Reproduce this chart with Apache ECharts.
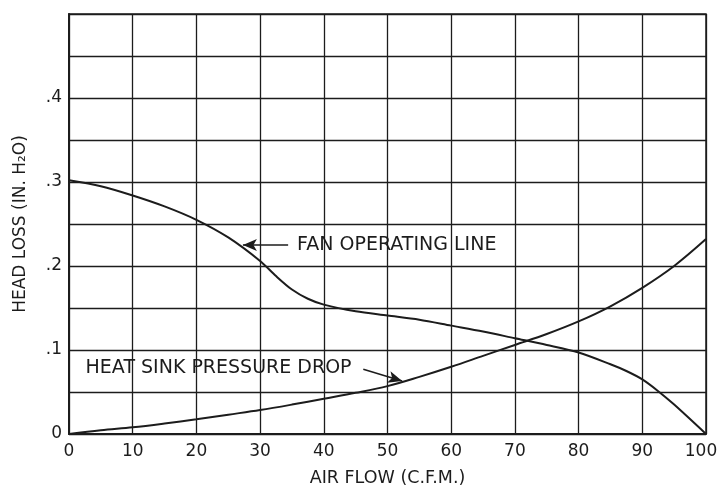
<!DOCTYPE html>
<html>
<head>
<meta charset="utf-8">
<script src="https://cdn.jsdelivr.net/npm/echarts@6/dist/echarts.min.js"></script>
<style>
  html, body { margin: 0; padding: 0; background: #ffffff; }
  #chart { width: 719px; height: 487px; }
</style>
</head>
<body>
<div id="chart"></div>
<script>
// ---- data ----
var fanFlow = [0, 5, 10, 15, 20, 25, 30, 32.5, 35, 37.5, 40, 45, 50, 55, 60, 65, 70, 75, 80, 85, 87.5, 90, 92.5, 95, 100];
var fanLine = [0.302, 0.295, 0.284, 0.271, 0.255, 0.234, 0.206, 0.188, 0.172, 0.161, 0.154, 0.146, 0.141, 0.136, 0.129, 0.122, 0.114, 0.106, 0.097, 0.083, 0.075, 0.065, 0.051, 0.035, 0.0];
var sinkFlow = [0, 5, 10, 15, 20, 25, 30, 35, 40, 45, 50, 55, 60, 65, 70, 75, 80, 85, 90, 95, 100];
var heatSink = [0, 0.0045, 0.008, 0.0125, 0.0175, 0.023, 0.0285, 0.035, 0.042, 0.049, 0.057, 0.068, 0.080, 0.093, 0.106, 0.119, 0.134, 0.152, 0.174, 0.200, 0.232];
var xTicks = [0, 10, 20, 30, 40, 50, 60, 70, 80, 90, 100];
var yTickLabels = ['0', '.1', '.2', '.3', '.4'];
var xTitle = 'AIR FLOW (C.F.M.)';
var yTitle = 'HEAD LOSS (IN. H\u2082O)';
var fanLabel = 'FAN OPERATING LINE';
var fanArrow = [[34.4, 0.225], [27.3, 0.225]];
var fanLabelAt = [35.8, 0.225];
var sinkLabel = 'HEAT SINK PRESSURE DROP';
var sinkArrow = [[46.2, 0.077], [52.3, 0.063]];
var sinkLabelAt = [2.6, 0.079];

function pairs(xs, ys) { return xs.map(function (x, i) { return [x, ys[i]]; }); }

var ink = '#1c1c1c';
var font = '"DejaVu Sans", Verdana, sans-serif';
var lastTick = xTicks[xTicks.length - 1];

var chart = echarts.init(document.getElementById('chart'), null, { renderer: 'canvas' });
chart.setOption({
  backgroundColor: '#ffffff',
  animation: false,
  textStyle: { fontFamily: font },
  grid: {
    left: 69, right: 13, top: 14, bottom: 53, containLabel: false, outerBoundsMode: 'none',
    show: true, borderColor: ink, borderWidth: 1.5, backgroundColor: 'transparent'
  },
  xAxis: {
    type: 'value', min: xTicks[0], max: lastTick, interval: 10,
    name: xTitle, nameLocation: 'middle', nameGap: 35,
    nameTextStyle: { color: ink, fontSize: 17.5, fontFamily: font },
    axisLine: { show: true, lineStyle: { color: ink, width: 2 } },
    axisTick: { show: false },
    axisLabel: {
      color: ink, fontSize: 17, margin: 9, fontFamily: font,
      formatter: function (v) { return v === lastTick ? '{last|' + v + '}' : String(v); },
      rich: { last: { fontSize: 17, fontFamily: font, color: ink, padding: [0, 10, 0, 0] } }
    },
    splitLine: { show: true, lineStyle: { color: ink, width: 1.3 } }
  },
  yAxis: {
    type: 'value', min: 0, max: 0.5, interval: 0.05,
    name: yTitle, nameLocation: 'middle', nameGap: 40, nameRotate: 90,
    nameTextStyle: { color: ink, fontSize: 17, fontFamily: font },
    axisLine: { show: true, lineStyle: { color: ink, width: 2 } },
    axisTick: { show: false },
    axisLabel: {
      color: ink, fontSize: 17, margin: 7, fontFamily: font,
      formatter: function (v) {
        var r = Math.round(v * 100);
        if (r % 10 !== 0) return '';
        var idx = r / 10;
        return idx < yTickLabels.length ? yTickLabels[idx] : '';
      }
    },
    splitLine: { show: true, lineStyle: { color: ink, width: 1.3 } }
  },
  series: [
    {
      name: 'fan', type: 'line', data: pairs(fanFlow, fanLine), smooth: 0.3,
      showSymbol: false, lineStyle: { color: ink, width: 2 },
      markLine: {
        silent: true, symbol: ['none', 'arrow'], symbolSize: [9, 14],
        label: { show: false },
        lineStyle: { color: ink, width: 1.6, type: 'solid' },
        data: [[{ coord: fanArrow[0] }, { coord: fanArrow[1] }]]
      },
      markPoint: {
        silent: true, symbol: 'circle', symbolSize: 0,
        label: { show: true, position: 'right', distance: 0, color: ink, fontSize: 19, fontFamily: font, formatter: fanLabel },
        data: [{ coord: fanLabelAt }]
      }
    },
    {
      name: 'sink', type: 'line', data: pairs(sinkFlow, heatSink), smooth: 0.35,
      showSymbol: false, lineStyle: { color: ink, width: 2 },
      markLine: {
        silent: true, symbol: ['none', 'arrow'], symbolSize: [9, 14],
        label: { show: false },
        lineStyle: { color: ink, width: 1.6, type: 'solid' },
        data: [[{ coord: sinkArrow[0] }, { coord: sinkArrow[1] }]]
      },
      markPoint: {
        silent: true, symbol: 'circle', symbolSize: 0,
        label: { show: true, position: 'right', distance: 0, color: ink, fontSize: 19, fontFamily: font, formatter: sinkLabel },
        data: [{ coord: sinkLabelAt }]
      }
    }
  ]
});
</script>
</body>
</html>
